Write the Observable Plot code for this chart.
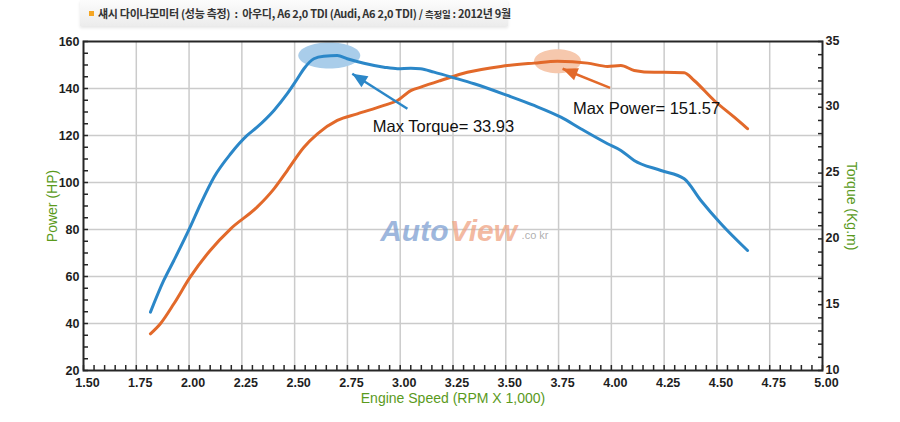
<!DOCTYPE html>
<html><head><meta charset="utf-8">
<script src="https://cdn.jsdelivr.net/npm/d3@7"></script>
<script src="https://cdn.jsdelivr.net/npm/@observablehq/plot@0.6"></script>
<style>
body{margin:0;background:#fff;}
#wrap{width:900px;height:422px;position:relative;overflow:hidden;}
#title{position:relative;height:30px;}
#titlebox{position:absolute;left:80px;top:0;width:428px;height:26px;background:linear-gradient(#fcfcfc,#ececec);box-shadow:0 2px 3px rgba(0,0,0,0.10);}
#sq{position:absolute;left:89px;top:11px;width:5px;height:5px;background:#f5a623;}
#ttext{position:absolute;left:98px;top:5px;font-weight:bold;font-size:11px;font-family:"Noto Sans CJK KR",sans-serif;color:#333;line-height:16px;white-space:nowrap;letter-spacing:-0.3px;}
</style></head>
<body><div id="wrap">
<div id="title"><div id="titlebox"></div><div id="sq"></div><div id="ttext">섀시 다이나모미터 (성능 측정) &nbsp;:&nbsp; 아우디, A6 2,0 TDI (Audi, A6 2,0 TDI) / <span style="font-size:9.5px">측정일</span> : 2012년 9월</div></div>
<div id="chart"></div>
</div>
<script>
// Torque curve (Kg.m) vs engine speed (RPM x 1,000)
const torqueRpm = [1.817,1.880,1.928,2.005,2.055,2.118,2.197,2.275,2.322,2.402,2.465,2.513,2.544,2.591,2.638,2.702,2.749,2.828,2.923,2.987,3.050,3.096,3.160,3.255,3.350,3.508,3.634,3.761,3.855,3.982,4.045,4.108,4.235,4.345,4.424,4.519,4.645];
const torqueVal = [14.43,16.84,18.36,20.89,22.67,24.69,26.47,27.86,28.49,29.76,31.03,32.17,32.93,33.69,33.88,33.93,33.69,33.35,33.05,32.93,32.97,32.93,32.67,32.24,31.79,30.90,30.14,29.25,28.37,27.23,26.72,25.96,25.20,24.57,22.92,21.15,19.12];
// Power curve (HP)
const powerRpm = [1.817,1.864,1.928,2.005,2.100,2.197,2.322,2.402,2.465,2.544,2.608,2.702,2.797,2.923,2.987,3.050,3.097,3.192,3.318,3.476,3.634,3.745,3.887,3.982,4.045,4.108,4.203,4.250,4.345,4.392,4.487,4.582,4.645];
const powerVal = [35.6,39.9,48.4,59.7,71.1,80.3,89.5,97.3,105.1,115.0,120.7,126.4,129.2,132.8,134.9,139.1,140.6,143.4,146.9,149.4,150.8,151.57,150.8,149.4,149.8,147.7,146.9,146.9,146.7,143.4,134.9,127.8,122.9];

// Axis ticks
const xMajor = [1.5,1.75,2.0,2.25,2.5,2.75,3.0,3.25,3.5,3.75,4.0,4.25,4.5,4.75,5.0];
const xGrid = [1.75,2.0,2.25,2.5,2.75,3.0,3.25,3.5,3.75,4.0,4.25,4.5,4.75];
const powerTicks = [20,40,60,80,100,120,140,160];
const powerGrid = [40,60,80,100,120,140];
const torqueTicks = [10,15,20,25,30,35];

// Annotations
const maxTorque = {rpm: 2.664, val: 33.93, label: "Max Torque= 33.93", lx: 2.870, ly: 123.8};
const maxPower = {rpm: 3.745, val: 151.57, label: "Max Power= 151.57", lx: 3.818, ly: 131.5};
const torqueArrow = [{x1: 3.034, y1: 131.4, x2: 2.773, y2: 146.3}];
const powerArrow = [{x1: 3.994, y1: 140.3, x2: 3.769, y2: 148.4}];

// torque (right axis, 10..35) mapped onto power scale (20..160)
const tq2hp = t => 20 + (t - 10) * (140 / 25);
const hp2tq = h => 10 + (h - 20) * (25 / 140);

const torque = torqueRpm.map((r, i) => ({rpm: r, tq: torqueVal[i]}));
const power = powerRpm.map((r, i) => ({rpm: r, hp: powerVal[i]}));

const xMinor = d3.range(30, 101).map(i => i / 20);
const yMinor = d3.range(20, 161, 5);
const tqMinor = d3.range(10, 36).map(tq2hp);

const BLUE = "#2b87c8", ORANGE = "#e2692a", GREEN = "#5a9a1c";

const ellipse = (rx, ry) => ({draw(ctx) {
  const k = 0.5523;
  ctx.moveTo(rx, 0);
  ctx.bezierCurveTo(rx, ry * k, rx * k, ry, 0, ry);
  ctx.bezierCurveTo(-rx * k, ry, -rx, ry * k, -rx, 0);
  ctx.bezierCurveTo(-rx, -ry * k, -rx * k, -ry, 0, -ry);
  ctx.bezierCurveTo(rx * k, -ry, rx, -ry * k, rx, 0);
  ctx.closePath();
}});
const tri = {draw(ctx) { ctx.moveTo(0, 0); ctx.lineTo(-15, -6.5); ctx.lineTo(-15, 6.5); ctx.closePath(); }};

function arrowMarks(data, color) {
  return [
    Plot.link(data, {x1: "x1", y1: "y1", x2: "x2", y2: "y2", stroke: color, strokeWidth: 2.5}),
    Plot.dot(data, {x: "x2", y: "y2", symbol: tri, fill: color, stroke: "none",
      render(index, scales, values, dims, ctx, next) {
        const g = next(index, scales, values, dims, ctx);
        d3.select(g).selectAll("path").each(function(_, j) {
          const d = data[index[j]];
          const x1 = scales.x(d.x1), y1 = scales.y(d.y1), x2 = scales.x(d.x2), y2 = scales.y(d.y2);
          const a = Math.atan2(y2 - y1, x2 - x1) * 180 / Math.PI;
          this.setAttribute("transform", `translate(${x2},${y2}) rotate(${a})`);
        });
        return g;
      }})
  ];
}

const FONT = "'Liberation Sans', Arial, sans-serif";
const LBL = "Liberation Sans, Arial, sans-serif";

const chart = Plot.plot({
  width: 900, height: 392,
  marginTop: 11, marginBottom: 52, marginLeft: 83, marginRight: 78,
  x: {domain: [1.5, 5]},
  y: {domain: [20, 160]},
  style: {fontFamily: FONT, fontSize: "12.5px", fontWeight: "bold", color: "#1e1e1e", background: "transparent", overflow: "visible"},
  marks: [
    Plot.gridX(xGrid, {stroke: "#cbcbcb", strokeOpacity: 1, strokeWidth: 1.5}),
    Plot.gridY(powerGrid, {stroke: "#cbcbcb", strokeOpacity: 1, strokeWidth: 1.5}),
    // watermark
    Plot.text(["Auto"], {x: 2.905, y: 79, text: d => d, textAnchor: "start", lineAnchor: "middle", fontSize: 30, fontWeight: "bold", fontStyle: "italic", fontFamily: LBL, fill: "#7e9fd2", fillOpacity: 0.75}),
    Plot.text(["View"], {x: 3.235, y: 79, text: d => d, textAnchor: "start", lineAnchor: "middle", fontSize: 30, fontWeight: "bold", fontStyle: "italic", fontFamily: LBL, fill: "#f0a383", fillOpacity: 0.75}),
    Plot.text([".co kr"], {x: 3.575, y: 77.5, text: d => d, textAnchor: "start", lineAnchor: "middle", fontSize: 11, fontWeight: "normal", fontFamily: LBL, fill: "#9a9a9a", fillOpacity: 0.8}),
    // peak ellipses
    Plot.dot([maxTorque], {x: "rpm", y: d => tq2hp(d.val), symbol: ellipse(31, 13), fill: "#a9cdea", stroke: "none"}),
    Plot.dot([maxPower], {x: "rpm", y: "val", symbol: ellipse(23.5, 12), fill: "#f6c8ad", stroke: "none"}),
    // curves
    Plot.line(power, {x: "rpm", y: "hp", stroke: ORANGE, strokeWidth: 3, strokeLinejoin: "round", strokeLinecap: "round", curve: "monotone-x"}),
    Plot.line(torque, {x: "rpm", y: d => tq2hp(d.tq), stroke: BLUE, strokeWidth: 3, strokeLinejoin: "round", strokeLinecap: "round", curve: "monotone-x"}),
    // arrows and labels
    ...arrowMarks(torqueArrow, BLUE),
    ...arrowMarks(powerArrow, ORANGE),
    Plot.text([maxTorque], {x: "lx", y: "ly", text: "label", textAnchor: "start", lineAnchor: "middle", fontSize: 16.5, fontWeight: "normal", fontFamily: LBL, fill: "#111"}),
    Plot.text([maxPower], {x: "lx", y: "ly", text: "label", textAnchor: "start", lineAnchor: "middle", fontSize: 16.5, fontWeight: "normal", fontFamily: LBL, fill: "#111"}),
    Plot.frame({stroke: "#262626", strokeWidth: 2}),
    // inward minor ticks
    Plot.axisX({ticks: xMinor, tickSize: 5, dy: -5, text: null, label: null, stroke: "#262626", strokeWidth: 1.5}),
    Plot.axisY({ticks: yMinor, tickSize: 5, dx: 5, text: null, label: null, stroke: "#262626", strokeWidth: 1.5}),
    Plot.axisY({anchor: "right", ticks: tqMinor, tickSize: 5, dx: -5, text: null, label: null, stroke: "#262626", strokeWidth: 1.5}),
    // tick labels
    Plot.axisX({ticks: xMajor, tickSize: 0, tickPadding: 8, dx: 4, tickFormat: d => d.toFixed(2), label: null}),
    Plot.axisY({ticks: powerTicks, tickSize: 0, tickPadding: 4, label: null}),
    Plot.axisY({anchor: "right", ticks: torqueTicks.map(tq2hp), tickSize: 0, tickPadding: 3, dy: -1, tickFormat: h => String(Math.round(hp2tq(h))), label: null}),
    // axis titles
    Plot.text(["Power (HP)"], {frameAnchor: "left", dx: -31, rotate: -90, text: d => d, textAnchor: "middle", lineAnchor: "middle", fontSize: 14, fontWeight: "normal", fontFamily: LBL, fill: GREEN}),
    Plot.text(["Torque (Kg.m)"], {frameAnchor: "right", dx: 29, rotate: 90, text: d => d, textAnchor: "middle", lineAnchor: "middle", fontSize: 14, fontWeight: "normal", fontFamily: LBL, fill: GREEN}),
    Plot.text(["Engine Speed (RPM X 1,000)"], {frameAnchor: "bottom", dy: 28, text: d => d, textAnchor: "middle", lineAnchor: "middle", fontSize: 14, fontWeight: "normal", fontFamily: LBL, fill: GREEN})
  ]
});
document.getElementById("chart").appendChild(chart);
</script>
</body></html>
